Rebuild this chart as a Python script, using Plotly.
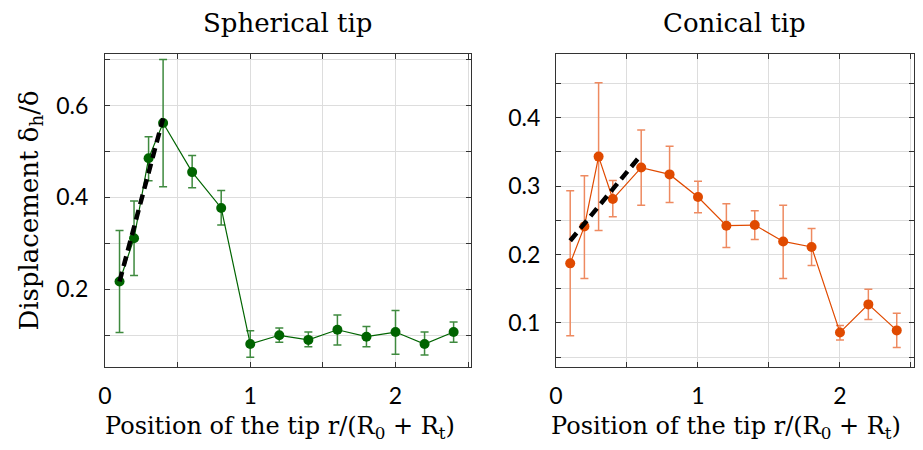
import plotly.graph_objects as go

# positions r/(R0+Rt)
pos = [0.1, 0.2, 0.3, 0.4, 0.6, 0.8, 1.0, 1.2, 1.4, 1.6, 1.8, 2.0, 2.2, 2.4]

# spherical tip
sph_mean = [0.217, 0.311, 0.485, 0.562, 0.455, 0.377, 0.081, 0.100, 0.090, 0.112, 0.097, 0.107, 0.081, 0.107]
sph_hi = [0.328, 0.392, 0.532, 0.700, 0.491, 0.415, 0.110, 0.116, 0.107, 0.144, 0.119, 0.154, 0.107, 0.129]
sph_lo = [0.106, 0.230, 0.436, 0.423, 0.421, 0.340, 0.052, 0.085, 0.075, 0.079, 0.075, 0.059, 0.057, 0.085]
sph_fit_x = [0.1, 0.4]
sph_fit_y = [0.217, 0.572]

# conical tip
con_mean = [0.187, 0.241, 0.343, 0.281, 0.327, 0.317, 0.284, 0.242, 0.243, 0.219, 0.211, 0.086, 0.127, 0.089]
con_hi = [0.293, 0.315, 0.451, 0.308, 0.382, 0.358, 0.307, 0.274, 0.264, 0.272, 0.238, 0.096, 0.149, 0.114]
con_lo = [0.081, 0.165, 0.235, 0.255, 0.272, 0.276, 0.261, 0.210, 0.222, 0.165, 0.184, 0.075, 0.105, 0.064]
con_fit_x = [0.1, 0.585]
con_fit_y = [0.220, 0.342]

serif = "DejaVu Serif"
sans = "Lato"

fig = go.Figure()

def add_series(x, y, hi, lo, color, errcolor, xa, ya):
    fig.add_trace(go.Scatter(
        x=x, y=y, mode='lines+markers',
        line=dict(color=color, width=1.2),
        marker=dict(color=color, size=10),
        error_y=dict(type='data', symmetric=False,
                     array=[h - m for h, m in zip(hi, y)],
                     arrayminus=[m - l for m, l in zip(y, lo)],
                     color=errcolor, thickness=1.5, width=4),
        xaxis=xa, yaxis=ya, showlegend=False))

add_series(pos, sph_mean, sph_hi, sph_lo, '#006400', '#3f8a3f', 'x', 'y')
fig.add_trace(go.Scatter(x=sph_fit_x, y=sph_fit_y, mode='lines',
                         line=dict(color='black', width=4.5, dash='10px,6px'),
                         xaxis='x', yaxis='y', showlegend=False))

add_series(pos, con_mean, con_hi, con_lo, '#e04a00', '#ee8a60', 'x2', 'y2')
fig.add_trace(go.Scatter(x=con_fit_x, y=con_fit_y, mode='lines',
                         line=dict(color='black', width=4.5, dash='10px,6px'),
                         xaxis='x2', yaxis='y2', showlegend=False))

axis_common = dict(showline=True, linecolor='#333333', linewidth=1.2, mirror='ticks',
                   ticks='inside', ticklen=5, tickcolor='#333333', automargin=False,
                   showgrid=True, gridcolor='#dddddd', gridwidth=1, zeroline=False,
                   tickfont=dict(family=sans, size=23, color='black'))

xticks = [0, 0.5, 1, 1.5, 2, 2.5]
xlabels = ['0', '', '1', '', '2', '']
xtitle = 'Position of the tip r/(R<sub>0</sub> + R<sub>t</sub>)'
xtitle_font = dict(family=serif, size=24, color='black')
ytitle_font = dict(family=serif, size=26, color='black')
panel_font = dict(family=serif, size=26, color='black')

# page body adds an 8px offset, so the figure is sized to fit the window
fig.update_layout(
    width=907, height=434,
    margin=dict(l=97, r=0, t=46, b=75),
    plot_bgcolor='white', paper_bgcolor='white',
    xaxis=dict(domain=[0, 0.4519], range=[0, 2.52], tickvals=xticks, ticktext=xlabels,
               ticklabelstandoff=8, **axis_common),
    yaxis=dict(range=[0.031, 0.712], tickvals=[0.1, 0.2, 0.3, 0.4, 0.5, 0.6, 0.7],
               ticktext=['', '0.2', '', '0.4', '', '0.6', ''],
               ticklabelstandoff=11,
               title=dict(text='Displacement δ<sub>h</sub>/δ', font=ytitle_font, standoff=10),
               **axis_common),
    xaxis2=dict(domain=[0.5568, 0.9985], range=[0, 2.52], tickvals=xticks, ticktext=xlabels,
                ticklabelstandoff=8, anchor='y2', **axis_common),
    yaxis2=dict(range=[0.0355, 0.493], anchor='x2',
                tickvals=[0.05, 0.1, 0.15, 0.2, 0.25, 0.3, 0.35, 0.4, 0.45],
                ticktext=['', '0.1', '', '0.2', '', '0.3', '', '0.4', ''],
                ticklabelstandoff=10,
                **axis_common),
    annotations=[
        dict(text='Spherical tip', x=0.2259, y=1.0, xref='paper', yref='paper',
             xanchor='center', yanchor='bottom', yshift=14, showarrow=False,
             font=panel_font),
        dict(text='Conical tip', x=0.7777, y=1.0, xref='paper', yref='paper',
             xanchor='center', yanchor='bottom', yshift=14, showarrow=False,
             font=panel_font),
        dict(text=xtitle, x=0.216, y=0, xref='paper', yref='paper',
             xanchor='center', yanchor='bottom', yshift=-78, showarrow=False,
             font=xtitle_font),
        dict(text=xtitle, x=0.7667, y=0, xref='paper', yref='paper',
             xanchor='center', yanchor='bottom', yshift=-78, showarrow=False,
             font=xtitle_font),
    ],
)

fig.write_html("out.html")
